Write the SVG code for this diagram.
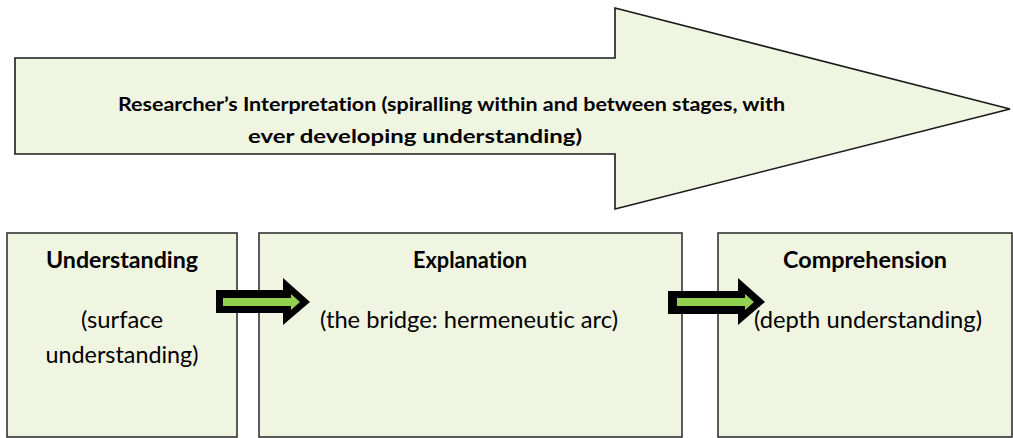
<svg xmlns="http://www.w3.org/2000/svg" width="1013" height="438" viewBox="0 0 1013 438">
  <style>
    .shape { fill: #F0F5E1; stroke: #1a1a1a; stroke-width: 1.6; }
    .box { fill: #F0F5E1; stroke: #333333; stroke-width: 1.6; }
    .t { font-family: Lato, "Liberation Sans", sans-serif; fill: #000; font-variant-ligatures: none; font-feature-settings: "liga" 0, "clig" 0; }
    .big { font-size: 19px; font-weight: bold; }
    .title { font-size: 23px; font-weight: bold; text-anchor: middle; }
    .body { font-size: 23px; text-anchor: middle; }
    .outer { fill: #000; }
    .inner { fill: #92D050; }
  </style>
  <rect width="1013" height="438" fill="#ffffff"/>
  <g id="interpretation-arrow">
    <polygon class="shape" points="15,58 615,58 615,8 1010,109 615,209 615,154 15,154"/>
    <text class="t big" x="118" y="111" textLength="667" lengthAdjust="spacingAndGlyphs">Researcher’s Interpretation (spiralling within and between stages, with</text>
    <text class="t big" x="248" y="143" textLength="334" lengthAdjust="spacingAndGlyphs">ever developing understanding)</text>
  </g>
  <g id="understanding">
    <rect class="box" x="7" y="233" width="230" height="204"/>
    <text class="t title" x="122" y="268" textLength="152" lengthAdjust="spacingAndGlyphs">Understanding</text>
    <text class="t body" x="122" y="328" textLength="82" lengthAdjust="spacingAndGlyphs">(surface</text>
    <text class="t body" x="122" y="363" textLength="153" lengthAdjust="spacingAndGlyphs">understanding)</text>
  </g>
  <g id="explanation">
    <rect class="box" x="259" y="233" width="423" height="204"/>
    <text class="t title" x="470" y="268" textLength="114" lengthAdjust="spacingAndGlyphs">Explanation</text>
    <text class="t body" x="469" y="328" textLength="298" lengthAdjust="spacingAndGlyphs">(the bridge: hermeneutic arc)</text>
  </g>
  <g id="comprehension">
    <rect class="box" x="718" y="233" width="294" height="204"/>
    <text class="t title" x="865" y="268" textLength="164" lengthAdjust="spacingAndGlyphs">Comprehension</text>
    <text class="t body" x="868" y="328" textLength="228" lengthAdjust="spacingAndGlyphs">(depth understanding)</text>
  </g>
  <g id="connectors">
    <g id="arrow-1">
      <polygon class="outer" points="216,290 283,290 283,278 310,302 283,325 283,313 216,313"/>
      <polygon class="inner" points="223,298 291,298 291,294 300,302 291,310 291,306 223,306"/>
    </g>
    <g id="arrow-2">
      <polygon class="outer" points="668,291 738,291 738,278 765,302 738,325 738,314 668,314"/>
      <polygon class="inner" points="677,298 745,298 745,294 754,302 745,310 745,306 677,306"/>
    </g>
  </g>
</svg>
